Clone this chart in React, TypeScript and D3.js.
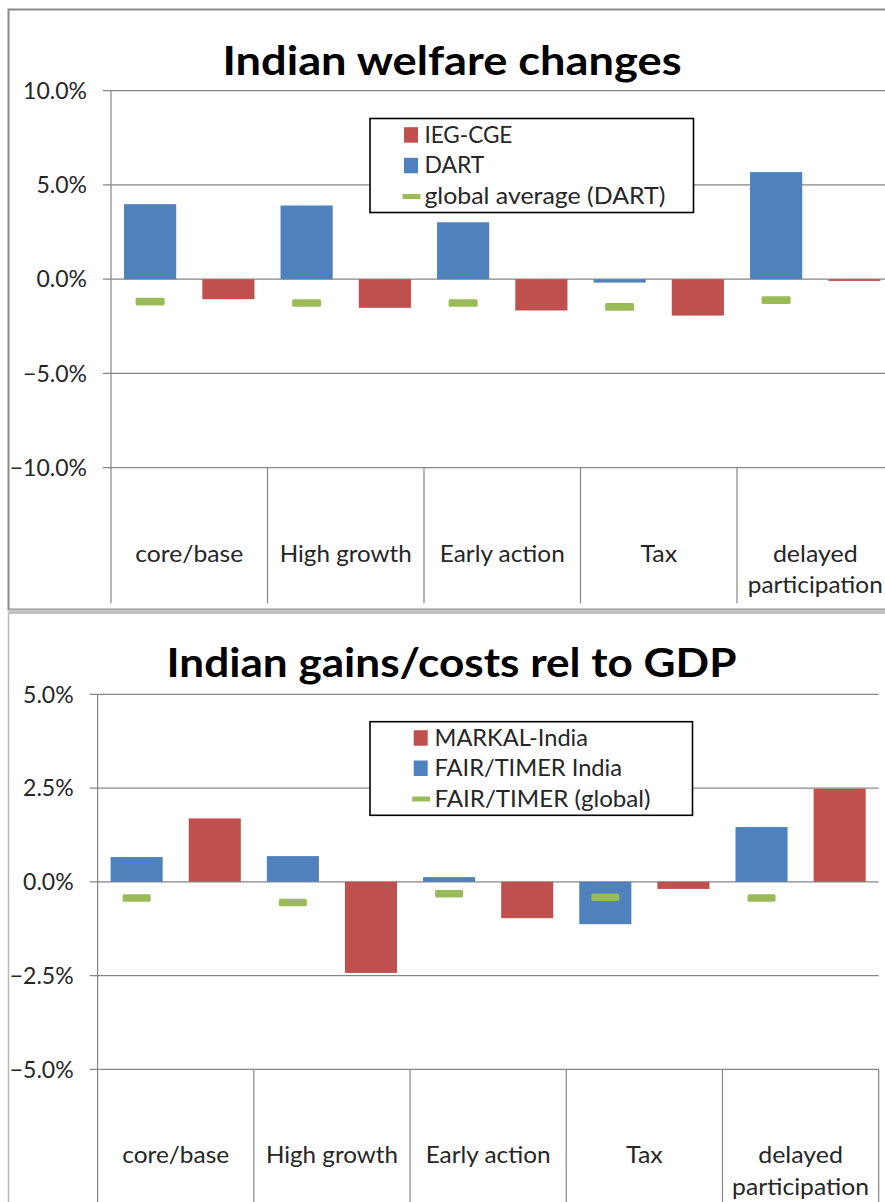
import React from "react";
import * as d3 from "d3";

// ---------- data ----------
const categories = ["core/base", "High growth", "Early action", "Tax", "delayed participation"];
const categoryLines = [["core/base"], ["High growth"], ["Early action"], ["Tax"], ["delayed", "participation"]];

const welfareTicks = [-10, -5, 0, 5, 10];
const welfareDART = [3.98, 3.91, 3.02, -0.18, 5.68];
const welfareIEG = [-1.06, -1.52, -1.66, -1.93, -0.09];
const welfareGlobal = [-1.19, -1.26, -1.26, -1.47, -1.11];
const welfareLegend = ["IEG-CGE", "DART", "global average (DART)"];

const gdpTicks = [-5, -2.5, 0, 2.5, 5];
const gdpFair = [0.66, 0.685, 0.125, -1.13, 1.46];
const gdpMarkal = [1.69, -2.43, -0.97, -0.19, 2.48];
const gdpGlobal = [-0.43, -0.55, -0.32, -0.41, -0.43];
const gdpLegend = ["MARKAL-India", "FAIR/TIMER India", "FAIR/TIMER (global)"];

const BLUE = "#4F81BD";
const RED = "#C0504D";
const GREEN = "#9BBB59";
const GRID = "#868686";
const TEXT = "#262626";
const FONT = "Lato, 'Open Sans', sans-serif";

type PanelProps = {
  title: string;
  titleX: number;
  titleY: number;
  titleW: number;
  ticks: number[];
  yTop: number;
  yBottom: number;
  xStart: number;
  xEnd: number;
  sepBottom: number;
  blue: number[];
  red: number[];
  green: number[];
  legend: string[];
  legendBox: { x: number; y: number; w: number; h: number };
  markerX: number;
  textX: number;
  rowBase: number[];
  legendWidths: number[];
  catBase: number[];
  catWidths: number[][];
  dashW: number;
};

function Panel(p: PanelProps) {
  const y = d3
    .scaleLinear()
    .domain([p.ticks[0], p.ticks[p.ticks.length - 1]])
    .range([p.yBottom, p.yTop]);
  const x = d3.scaleBand<string>().domain(categories).range([p.xStart, p.xEnd]).padding(0);
  const bw = x.bandwidth();
  const barW = bw / 3;
  const fmt = (v: number) => d3.format(".1f")(v) + "%";
  const y0 = y(0);
  const lb = p.legendBox;
  return (
    <g>
      <text
        x={p.titleX}
        y={p.titleY}
        textAnchor="middle"
        fontFamily={FONT}
        fontWeight="bold"
        fontSize={40}
        fill="#000"
        textLength={p.titleW}
        lengthAdjust="spacingAndGlyphs"
      >
        {p.title}
      </text>
      {/* gridlines and ticks */}
      {p.ticks.map((t) => (
        <g key={t}>
          <line x1={p.xStart - 8} x2={p.xEnd} y1={y(t)} y2={y(t)} stroke={GRID} strokeWidth={1.2} />
          <text
            x={p.xStart - 24}
            y={y(t)}
            dy="0.36em"
            textAnchor="end"
            fontFamily={FONT}
            fontSize={23}
            fill={TEXT}
          >
            {fmt(t)}
          </text>
        </g>
      ))}
      {/* axis line */}
      <line x1={p.xStart} x2={p.xStart} y1={p.yTop} y2={p.sepBottom} stroke={GRID} strokeWidth={1.2} />
      {/* category separators */}
      {categories.map((c) => (
        <line
          key={"sep" + c}
          x1={(x(c) as number) + bw}
          x2={(x(c) as number) + bw}
          y1={p.yBottom}
          y2={p.sepBottom}
          stroke={GRID}
          strokeWidth={1.2}
        />
      ))}
      {/* bars */}
      {categories.map((c, i) => {
        const bx = (x(c) as number) + bw / 12;
        const rx = (x(c) as number) + (7 * bw) / 12;
        const gy = y(p.green[i]);
        return (
          <g key={"bar" + c}>
            <rect
              x={bx}
              width={barW}
              y={Math.min(y(p.blue[i]), y0)}
              height={Math.abs(y(p.blue[i]) - y0)}
              fill={BLUE}
            />
            <rect
              x={rx}
              width={barW}
              y={Math.min(y(p.red[i]), y0)}
              height={Math.abs(y(p.red[i]) - y0)}
              fill={RED}
            />
            <rect x={bx + barW / 2 - p.dashW / 2} width={p.dashW} y={gy - 3.8} height={7.6} rx={1.5} fill={GREEN} />
          </g>
        );
      })}
      {/* category labels */}
      {categories.map((c, i) => (
        <g key={"lab" + c}>
          {categoryLines[i].map((ln, j) => (
            <text
              key={ln}
              x={(x(c) as number) + bw / 2}
              y={p.catBase[j]}
              textAnchor="middle"
              fontFamily={FONT}
              fontSize={23}
              fill={TEXT}
              textLength={p.catWidths[i][j]}
              lengthAdjust="spacingAndGlyphs"
            >
              {ln}
            </text>
          ))}
        </g>
      ))}
      {/* legend */}
      <rect x={lb.x} y={lb.y} width={lb.w} height={lb.h} fill="#fff" stroke="#000" strokeWidth={1.6} />
      {p.legend.map((name, i) => {
        const base = p.rowBase[i];
        const color = i === 0 ? RED : i === 1 ? BLUE : GREEN;
        return (
          <g key={name}>
            {i < 2 ? (
              <rect x={p.markerX} y={base - 15.5} width={14} height={15.5} fill={color} />
            ) : (
              <rect x={p.markerX - 1.5} y={base - 10} width={18} height={5} fill={color} />
            )}
            <text
              x={p.textX}
              y={base}
              fontFamily={FONT}
              fontSize={23}
              fill={TEXT}
              textLength={p.legendWidths[i]}
              lengthAdjust="spacingAndGlyphs"
            >
              {name}
            </text>
          </g>
        );
      })}
    </g>
  );
}

export default function App() {
  return (
    <svg
      width={885}
      height={1202}
      style={{ position: "absolute", left: 0, top: 0, background: "#fff" }}
    >
      <rect x={0} y={0} width={885} height={1202} fill="#fff" />
      {/* frames */}
      <rect x={8.5} y={9.5} width={900} height={600} fill="none" stroke="#8a8a8a" strokeWidth={2} />
      <rect x={8.5} y={609.5} width={900} height={4} fill="#c4c4c4" />
      <rect x={8.5} y={613} width={900} height={620} fill="none" stroke="#b8b8b8" strokeWidth={1.5} />
      <Panel
        title="Indian welfare changes"
        titleX={452}
        titleY={75}
        titleW={459}
        ticks={welfareTicks}
        yTop={90.7}
        yBottom={467.7}
        xStart={111}
        xEnd={893.5}
        sepBottom={603.3}
        blue={welfareDART}
        red={welfareIEG}
        green={welfareGlobal}
        legend={welfareLegend}
        legendBox={{ x: 370, y: 118.5, w: 323.5, h: 94 }}
        markerX={404}
        textX={424.4}
        rowBase={[142.7, 173.3, 204]}
        legendWidths={[88, 60, 241]}
        catBase={[561.7, 593.3]}
        catWidths={[[108], [132], [125], [36.7], [84.7, 135]]}
        dashW={29}
      />
      <Panel
        title="Indian gains/costs rel to GDP"
        titleX={451.5}
        titleY={677.3}
        titleW={570}
        ticks={gdpTicks}
        yTop={694.3}
        yBottom={1069.3}
        xStart={97.6}
        xEnd={878.7}
        sepBottom={1202}
        blue={gdpFair}
        red={gdpMarkal}
        green={gdpGlobal}
        legend={gdpLegend}
        legendBox={{ x: 370, y: 721.7, w: 322.5, h: 93.6 }}
        markerX={413.7}
        textX={434.5}
        rowBase={[745.7, 776, 806.5]}
        legendWidths={[153.5, 187.5, 216]}
        catBase={[1163.3, 1195]}
        catWidths={[[107], [132], [125], [36.7], [84.7, 137]]}
        dashW={28}
      />
    </svg>
  );
}
